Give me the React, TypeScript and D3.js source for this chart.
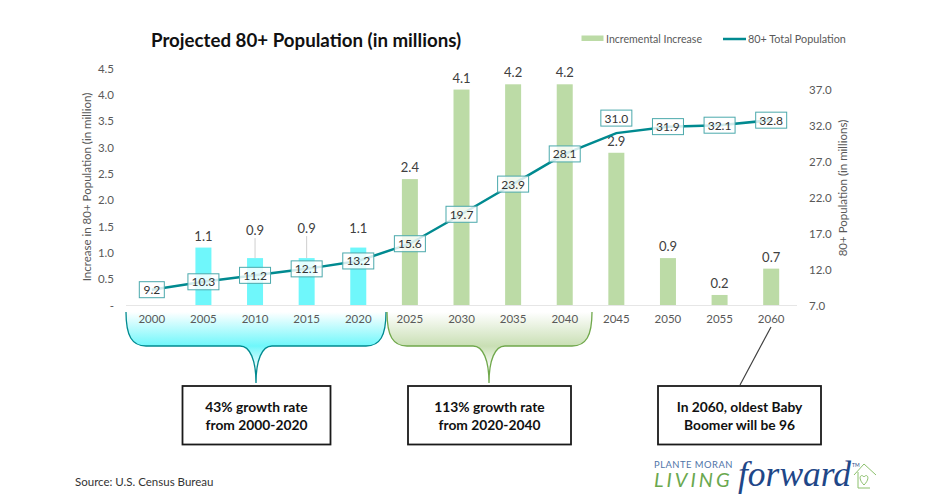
import * as d3 from 'd3'

const years = ['2000', '2005', '2010', '2015', '2020', '2025', '2030', '2035', '2040', '2045', '2050', '2055', '2060']
const increase = [null, 1.1, 0.9, 0.9, 1.1, 2.4, 4.1, 4.2, 4.2, 2.9, 0.9, 0.2, 0.7]
const totals = [9.2, 10.3, 11.2, 12.1, 13.2, 15.6, 19.7, 23.9, 28.1, 31.0, 31.9, 32.1, 32.8]
const leftTicks = [0, 0.5, 1, 1.5, 2, 2.5, 3, 3.5, 4, 4.5]
const rightTicks = [7, 12, 17, 22, 27, 32, 37]
const historicYears = ['2005', '2010', '2015', '2020']
// labels pushed off their default spot in the original chart
const raisedLabels: Record<string, number> = { '2010': 16, '2015': 18, '2020': 8 }
const leaderYears = ['2010', '2015']
const boxNudge: Record<string, number> = { '2045': -15 }

const width = 936
const height = 504
const x = d3.scaleBand().domain(years).range([126, 797])
const yLeft = d3.scaleLinear().domain([0, 4.5]).range([305.5, 68.5])
const yRight = d3.scaleLinear().domain([7, 37]).range([305.5, 90])

const font = "Lato, 'Open Sans', sans-serif"
const grey = '#595959'
const teal = '#008a90'
const cyan = '#6ff7fb'
const green = '#bcdba6'
const center = (y: string) => x(y)! + x.bandwidth() / 2

// curly bracket under the axis, tip points down at cx
const bracket = (x0: number, x1: number, cx: number) => {
    const top = 312
    const bottom = 346
    const tip = 383
    return `M${x0},${top} C${x0},${bottom - 10} ${x0 + 6},${bottom} ${x0 + 20},${bottom}
        L${cx - 16},${bottom} C${cx - 6},${bottom} ${cx},${bottom + 14} ${cx},${tip}
        C${cx},${bottom + 14} ${cx + 6},${bottom} ${cx + 16},${bottom}
        L${x1 - 20},${bottom} C${x1 - 6},${bottom} ${x1},${bottom - 10} ${x1},${top}`
}

const Callout = ({ x0, x1, lines }: { x0: number; x1: number; lines: string[] }) => (
    <g>
        <rect x={x0} y={386} width={x1 - x0} height={58.5} fill='#fff' stroke='#1a1a1a' strokeWidth={1.8} />
        {lines.map((l, i) => (
            <text key={l} x={(x0 + x1) / 2} y={411.5 + i * 18} textAnchor='middle' fontSize={13.8} fontWeight={700} fill='#111'>
                {l}
            </text>
        ))}
    </g>
)

export default function App() {
    const line = d3
        .line<number>()
        .x((_, i) => center(years[i]))
        .y(d => yRight(d))

    return (
        <svg
            width={width}
            height={height}
            fontFamily={font}
            style={{ position: 'absolute', left: 0, top: 0, background: '#fff' }}
        >
            <defs>
                <linearGradient id='cyanFade' x1='0' y1='0' x2='0' y2='1'>
                    <stop offset='0' stopColor='#fff' />
                    <stop offset='0.48' stopColor={cyan} />
                    <stop offset='0.8' stopColor='#fff' />
                </linearGradient>
                <linearGradient id='greenFade' x1='0' y1='0' x2='0' y2='1'>
                    <stop offset='0' stopColor='#fff' />
                    <stop offset='0.48' stopColor='#c9dfb4' />
                    <stop offset='0.8' stopColor='#fff' />
                </linearGradient>
            </defs>

            <text x={151} y={47} fontSize={18.7} fontWeight={700} fill='#111'>
                Projected 80+ Population (in millions)
            </text>

            {/* legend */}
            <rect x={581.5} y={35.5} width={22} height={5.5} fill={green} />
            <text x={606} y={43} fontSize={10.6} fill={grey}>Incremental Increase</text>
            <line x1={723} x2={746} y1={39} y2={39} stroke={teal} strokeWidth={2.5} />
            <text x={748} y={43} fontSize={10.8} fill={grey}>80+ Total Population</text>

            {/* brackets sit behind the year labels */}
            <path d={bracket(126, 386, 256)} fill='url(#cyanFade)' stroke={teal} strokeWidth={1.3} />
            <path d={bracket(387, 592, 489)} fill='url(#greenFade)' stroke='#70a84c' strokeWidth={1.3} />

            {/* bars */}
            {years.map((y, i) =>
                increase[i] === null ? null : (
                    <rect
                        key={y}
                        x={center(y) - 8}
                        y={yLeft(increase[i]!)}
                        width={16}
                        height={yLeft(0) - yLeft(increase[i]!)}
                        fill={historicYears.includes(y) ? cyan : green}
                    />
                )
            )}
            <line x1={126} x2={797} y1={305.5} y2={305.5} stroke='#e6e6e6' strokeWidth={1.2} />

            {/* bar labels */}
            {years.map((y, i) => {
                const v = increase[i]
                if (v === null) return null
                const labelY = yLeft(v) - 7 - (raisedLabels[y] ?? 0)
                return (
                    <g key={y}>
                        {leaderYears.includes(y) && (
                            <line x1={center(y)} x2={center(y)} y1={labelY + 3} y2={yLeft(v)} stroke='#cfcfcf' />
                        )}
                        <text x={center(y)} y={labelY} textAnchor='middle' fontSize={13} fill='#404040'>
                            {v.toFixed(1)}
                        </text>
                    </g>
                )
            })}

            <path d={line(totals)!} fill='none' stroke={teal} strokeWidth={2.5} />

            {/* value boxes on the line */}
            {years.map((y, i) => {
                const cx = center(y)
                const cy = yRight(totals[i]) + (boxNudge[y] ?? 0)
                const w = i === 0 ? 25 : 31
                return (
                    <g key={y}>
                        <rect
                            x={cx - w / 2}
                            y={cy - 8}
                            width={w}
                            height={16}
                            fill='#fff'
                            fillOpacity={0.82}
                            stroke='#4ba9ac'
                            strokeWidth={1}
                        />
                        <text x={cx} y={cy + 4.5} textAnchor='middle' fontSize={12} fill='#333'>
                            {totals[i].toFixed(1)}
                        </text>
                    </g>
                )
            })}

            {/* axes */}
            {leftTicks.map(t => (
                <text key={t} x={114} y={yLeft(t) + 4} textAnchor='end' fontSize={11.5} fill={grey}>
                    {t === 0 ? '-' : t.toFixed(1)}
                </text>
            ))}
            {rightTicks.map(t => (
                <text key={t} x={809} y={yRight(t) + 4} fontSize={11.5} fill={grey}>
                    {t.toFixed(1)}
                </text>
            ))}
            {years.map(y => (
                <text key={y} x={center(y)} y={323} textAnchor='middle' fontSize={11.5} fill={grey}>
                    {y}
                </text>
            ))}
            <text transform='translate(91,187) rotate(-90)' textAnchor='middle' fontSize={11.5} fill={grey}>
                Increase in 80+ Population (in million)
            </text>
            <text transform='translate(846.5,188) rotate(-90)' textAnchor='middle' fontSize={11.5} fill={grey}>
                80+ Population (in millions)
            </text>

            {/* callouts */}
            <Callout x0={182.5} x1={330.5} lines={['43% growth rate', 'from 2000-2020']} />
            <Callout x0={408} x1={571} lines={['113% growth rate', 'from 2020-2040']} />
            <Callout x0={658} x1={821} lines={['In 2060, oldest Baby', 'Boomer will be 96']} />
            <line x1={771} y1={327} x2={740} y2={385} stroke='#404040' strokeWidth={1.2} />

            <text x={75} y={486} fontSize={11.5} fill='#333'>Source: U.S. Census Bureau</text>

            {/* logo */}
            <text x={654} y={468} fontSize={9.4} letterSpacing={0.5} fill='#4f74a8'>PLANTE MORAN</text>
            <text x={654} y={487} fontSize={20} fontStyle='italic' letterSpacing={3} fill='#6aa84f'>LIVING</text>
            <text x={738} y={486} fontSize={35.5} fontStyle='italic' fontFamily="'Liberation Serif', serif" fill='#1f4788'>
                forward
            </text>
            <text x={852} y={467} fontSize={5} fill='#1f4788'>TM</text>
            <path
                d='M854,475 L864,464 L876,475 M858,472 L858,488 L870,488'
                fill='none'
                stroke='#8cc06c'
                strokeWidth={1}
            />
            <path
                d='M864,477 C861,473 857,478 864,485 C871,478 867,473 864,477 Z'
                fill='none'
                stroke='#8cc06c'
                strokeWidth={1}
            />
        </svg>
    )
}
